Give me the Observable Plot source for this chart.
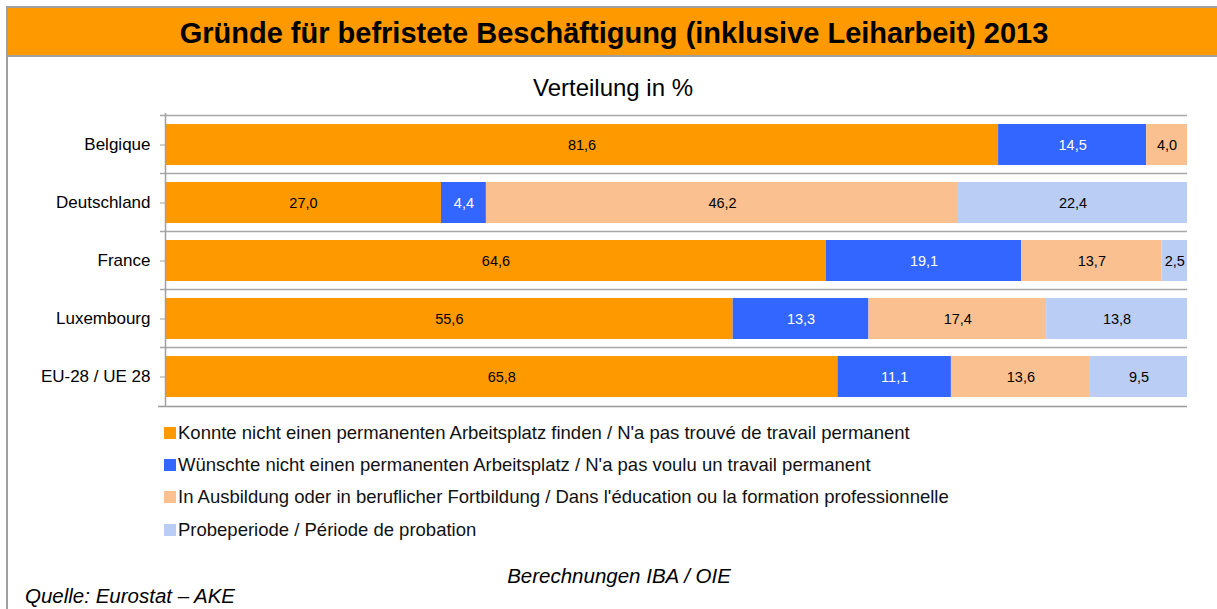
<!DOCTYPE html>
<html>
<head>
<meta charset="utf-8">
<script src="https://cdn.jsdelivr.net/npm/d3@7"></script>
<script src="https://cdn.jsdelivr.net/npm/@observablehq/plot@0.6"></script>
<style>
  html, body { margin: 0; padding: 0; background: #fff; }
  body { width: 1217px; height: 609px; overflow: hidden; position: relative; font-family: "Liberation Sans", Arial, sans-serif; color: #000; }
  .abs { position: absolute; white-space: nowrap; }
  #frame { left: 6px; top: 6px; width: 1300px; height: 700px; border-left: 2px solid #a0a0a0; border-top: 2px solid #a0a0a0; }
  #titlebar { left: 8px; top: 8px; width: 1300px; height: 47px; background: #FF9900; border-bottom: 2px solid #a0a0a0; }
  #title { left: 614px; top: 18.7px; transform: translateX(-50%); font-size: 29px; line-height: 29px; font-weight: bold; }
  #subtitle { left: 613px; top: 75.7px; transform: translateX(-50%); font-size: 24px; line-height: 24px; }
  #chart { left: 0; top: 100px; }
  .leg { left: 164px; font-size: 18.5px; line-height: 18.5px; color: #111; }
  .sw { display: inline-block; width: 12px; height: 12px; margin-right: 2px; vertical-align: 0px; }
  #calc { left: 619px; top: 565.9px; transform: translateX(-50%); font-size: 20.5px; line-height: 20.5px; font-style: italic; }
  #source { left: 25px; top: 585.9px; font-size: 20.5px; line-height: 20.5px; font-style: italic; }
</style>
</head>
<body>
<div id="frame" class="abs"></div>
<div id="titlebar" class="abs"></div>
<div id="title" class="abs">Gründe für befristete Beschäftigung (inklusive Leiharbeit) 2013</div>
<div id="subtitle" class="abs">Verteilung in %</div>
<div id="chart" class="abs"></div>
<div id="legend"></div>
<div id="calc" class="abs">Berechnungen IBA / OIE</div>
<div id="source" class="abs">Quelle: Eurostat – AKE</div>
<script>
const countries = ["Belgique", "Deutschland", "France", "Luxembourg", "EU-28 / UE 28"];
const categories = [
  "Konnte nicht einen permanenten Arbeitsplatz finden / N'a pas trouvé de travail permanent",
  "Wünschte nicht einen permanenten Arbeitsplatz / N'a pas voulu un travail permanent",
  "In Ausbildung oder in beruflicher Fortbildung / Dans l'éducation ou la formation professionnelle",
  "Probeperiode / Période de probation"
];
const colors = ["#FF9900", "#3366FF", "#FAC090", "#B9CDF5"];
const konnteNicht = [81.6, 27.0, 64.6, 55.6, 65.8];
const wuenschteNicht = [14.5, 4.4, 19.1, 13.3, 11.1];
const ausbildung = [4.0, 46.2, 13.7, 17.4, 13.6];
const probeperiode = [null, 22.4, 2.5, 13.8, 9.5];

const series = [konnteNicht, wuenschteNicht, ausbildung, probeperiode];
const data = [];
countries.forEach((c, i) => {
  series.forEach((s, k) => {
    if (s[i] != null) data.push({country: c, cat: categories[k], value: s[i]});
  });
});
const fmt = v => v.toFixed(1).replace(".", ",");

const step = 294 / 5;
const gridColor = "#a8a8a8";

const chart = Plot.plot({
  width: 1217,
  height: 312,
  marginLeft: 165,
  marginRight: 30,
  marginTop: 13,
  marginBottom: 5,
  style: {fontFamily: "'Liberation Sans', Arial, sans-serif", background: "transparent", color: "#000"},
  x: {domain: [0, 1], axis: null},
  y: {domain: countries, paddingInner: 0.3, paddingOuter: 0.15, axis: null},
  color: {domain: categories, range: colors},
  marks: [
    Plot.ruleY(countries, {y: d => d, dy: -step / 2, x1: 0, x2: 1, insetLeft: -5, stroke: gridColor, strokeWidth: 1.5}),
    Plot.ruleY([countries[countries.length - 1]], {y: d => d, dy: step / 2, x1: 0, x2: 1, insetLeft: -7, stroke: "#999", strokeWidth: 1.5}),
    Plot.barX(data, Plot.stackX({x: "value", y: "country", fill: "cat", offset: "normalize"})),
    Plot.ruleX([0], {stroke: "#a0a0a0", strokeWidth: 1.5}),
    Plot.axisY({tickSize: 5, tickPadding: 10, fontSize: 17, stroke: "#a0a0a0", fill: "#000", label: null}),
    Plot.textX(data, Plot.stackX({
      x: "value", y: "country", offset: "normalize",
      text: d => d.cat === categories[1] ? null : fmt(d.value),
      fill: "#000", fontSize: 14.5
    })),
    Plot.textX(data, Plot.stackX({
      x: "value", y: "country", offset: "normalize",
      text: d => d.cat === categories[1] ? fmt(d.value) : null,
      fill: "#fff", fontSize: 14.5
    }))
  ]
});
document.getElementById("chart").appendChild(chart);

const legend = document.getElementById("legend");
categories.forEach((c, k) => {
  const div = document.createElement("div");
  div.className = "abs leg";
  div.style.top = (423.6 + k * 32.4) + "px";
  const sw = document.createElement("span");
  sw.className = "sw";
  sw.style.background = colors[k];
  div.appendChild(sw);
  div.appendChild(document.createTextNode(c));
  legend.appendChild(div);
});
</script>
</body>
</html>
